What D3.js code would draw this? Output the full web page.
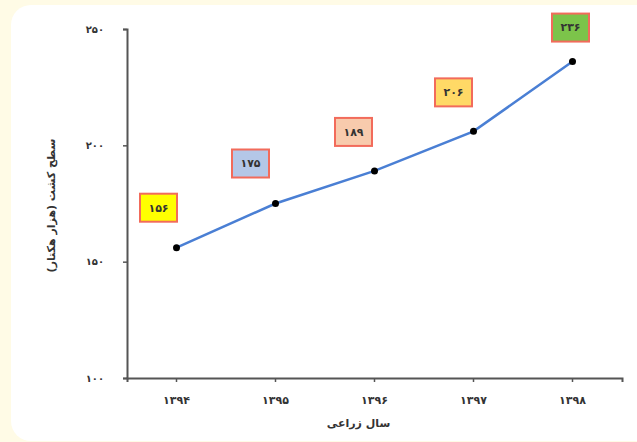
<!DOCTYPE html>
<html>
<head>
<meta charset="utf-8">
<script src="https://cdn.jsdelivr.net/npm/d3@7"></script>
<style>
  html, body { margin: 0; padding: 0; background: #fffbe6; }
  svg { display: block; }
  text { font-family: "DejaVu Sans", "Noto Sans", sans-serif; }
</style>
</head>
<body>
<svg id="chart" width="637" height="442"></svg>
<script>
// Cultivated area by crop year (thousand hectares)
const years = ["۱۳۹۴", "۱۳۹۵", "۱۳۹۶", "۱۳۹۷", "۱۳۹۸"];
const areas = [156, 175, 189, 206, 236];
const valueLabels = ["۱۵۶", "۱۷۵", "۱۸۹", "۲۰۶", "۲۳۶"];
const yTicks = [100, 150, 200, 250];
const yTickLabels = ["۱۰۰", "۱۵۰", "۲۰۰", "۲۵۰"];
const labelFills = ["#ffff00", "#b4c7e7", "#f8cbad", "#ffd966", "#7cc44a"];

// label box placement relative to each point (layout)
const labelOffsets = [[-18, -40], [-25, -40], [-21, -39], [-20, -39], [-2, -34]];

const svg = d3.select("#chart");

// white card
svg.append("rect")
  .attr("x", 11).attr("y", 5)
  .attr("width", 650).attr("height", 436)
  .attr("rx", 20).attr("ry", 20)
  .attr("fill", "#ffffff");

const plotLeft = 127, plotRight = 622, plotTop = 29, plotBottom = 378;

const x = d3.scaleBand().domain(years).range([plotLeft, plotRight]);
const y = d3.scaleLinear().domain([100, 250]).range([plotBottom, plotTop]);

const axisColor = "#555555";

// y axis
const yAxis = svg.append("g")
  .attr("transform", `translate(${plotLeft},0)`)
  .call(d3.axisLeft(y).tickValues(yTicks)
    .tickFormat((d, i) => yTickLabels[i]).tickSize(4).tickPadding(19));
yAxis.select(".domain").attr("stroke", axisColor).attr("stroke-width", 2);
yAxis.selectAll(".tick line").attr("stroke", axisColor).attr("stroke-width", 1.5);
yAxis.selectAll(".tick text")
  .attr("fill", "#333").attr("font-size", 10).attr("font-weight", "bold");

// x axis
const xAxis = svg.append("g")
  .attr("transform", `translate(0,${plotBottom})`)
  .call(d3.axisBottom(x).tickSize(4).tickPadding(14).tickSizeOuter(4));
xAxis.select(".domain").attr("stroke", axisColor).attr("stroke-width", 2);
xAxis.selectAll(".tick line").attr("stroke", axisColor).attr("stroke-width", 1.5);
xAxis.selectAll(".tick text")
  .attr("fill", "#333").attr("font-size", 11).attr("font-weight", "bold");

// axis titles
svg.append("text")
  .attr("x", x("۱۳۹۶") + x.bandwidth() / 2 - 16)
  .attr("y", 427)
  .attr("text-anchor", "middle")
  .attr("font-size", 11).attr("font-weight", "bold").attr("fill", "#333")
  .text("سال زراعی");

svg.append("text")
  .attr("transform", `translate(55,${(plotTop + plotBottom) / 2 + 2}) rotate(-90)`)
  .attr("text-anchor", "middle")
  .attr("font-size", 11).attr("font-weight", "bold").attr("fill", "#333")
  .text("سطح کشت (هزار هکتار)");

// series
const pts = years.map((yr, i) => ({ yr, v: areas[i], lbl: valueLabels[i], i }));
const cx = d => x(d.yr) + x.bandwidth() / 2;

svg.append("path")
  .datum(pts)
  .attr("fill", "none")
  .attr("stroke", "#4a7fd4")
  .attr("stroke-width", 2.5)
  .attr("d", d3.line().x(cx).y(d => y(d.v)));

svg.selectAll("circle.pt")
  .data(pts).enter().append("circle")
  .attr("class", "pt")
  .attr("cx", cx).attr("cy", d => y(d.v))
  .attr("r", 3.5).attr("fill", "#000");

// value label boxes
const bw = 37, bh = 28;
const lab = svg.selectAll("g.lab").data(pts).enter().append("g")
  .attr("class", "lab")
  .attr("transform", d => `translate(${cx(d) + labelOffsets[d.i][0]},${y(d.v) + labelOffsets[d.i][1]})`);
lab.append("rect")
  .attr("x", -bw / 2).attr("y", -bh / 2)
  .attr("width", bw).attr("height", bh)
  .attr("fill", (d, i) => labelFills[i])
  .attr("stroke", "#f26b5b").attr("stroke-width", 2);
lab.append("text")
  .attr("text-anchor", "middle").attr("dy", "0.35em")
  .attr("font-size", 11).attr("font-weight", "bold").attr("fill", "#333")
  .text(d => d.lbl);
</script>
</body>
</html>
